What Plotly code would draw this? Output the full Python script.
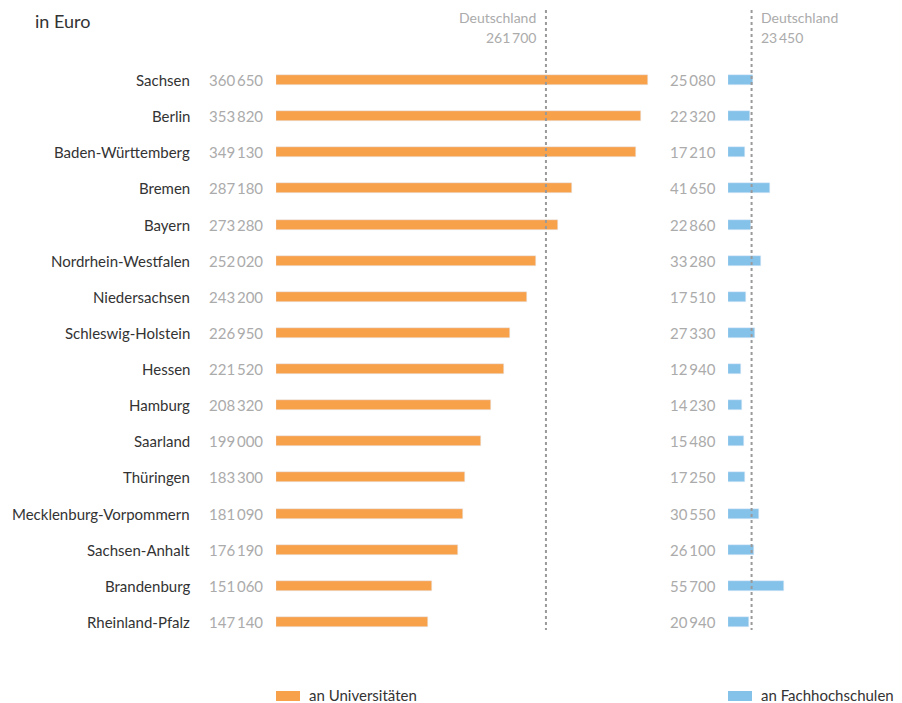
import plotly.graph_objects as go

states = ["Sachsen", "Berlin", "Baden-Württemberg", "Bremen", "Bayern",
          "Nordrhein-Westfalen", "Niedersachsen", "Schleswig-Holstein", "Hessen",
          "Hamburg", "Saarland", "Thüringen", "Mecklenburg-Vorpommern",
          "Sachsen-Anhalt", "Brandenburg", "Rheinland-Pfalz"]
uni = [360650, 353820, 349130, 287180, 273280, 252020, 243200, 226950,
       221520, 208320, 199000, 183300, 181090, 176190, 151060, 147140]
fh = [25080, 22320, 17210, 41650, 22860, 33280, 17510, 27330,
      12940, 14230, 15480, 17250, 30550, 26100, 55700, 20940]
de_uni = 261700
de_fh = 23450
series_names = ["an Universitäten", "an Fachhochschulen"]

OFF = 8  # page body margin
W, H = 902 - OFF, 703 - OFF
ORANGE = "#F8A14B"
BLUE = "#84C2EA"
GREY = "#ABABAB"
DARK = "#333333"
FONT = "Lato"


def px(x):
    return (x - OFF) / W


def py(y):
    return 1 - (y - OFF) / H


def fmt(v):
    return f"{v:,}".replace(",", "\u2009")


idx = list(range(len(states)))
row0, rowstep = 80 - OFF, (622 - 80) / 15
y_top = (0 - row0) / rowstep
y_bot = (H - row0) / rowstep

sx1 = 372 / 360650
sx2 = 56 / 55700
x1_dom = [px(276), px(676)]
x1_rng = [0, 400 / sx1]
x2_dom = [px(728), px(828)]
x2_rng = [0, 100 / sx2]

fig = go.Figure()
bw = 10 / rowstep
fig.add_trace(go.Bar(x=uni, y=idx, orientation="h", marker_color=ORANGE,
                     width=bw, xaxis="x", yaxis="y", name=series_names[0],
                     showlegend=False, hoverinfo="x"))
fig.add_trace(go.Bar(x=fh, y=idx, orientation="h", marker_color=BLUE,
                     width=bw, xaxis="x2", yaxis="y", name=series_names[1],
                     showlegend=False, hoverinfo="x"))

ann = []
for i, (s, u, f) in enumerate(zip(states, uni, fh)):
    ann.append(dict(x=px(192), xref="paper", y=i, yref="y", text=s,
                    xanchor="right", yanchor="middle", showarrow=False,
                    font=dict(family=FONT, size=15, color=DARK)))
    ann.append(dict(x=px(265), xref="paper", y=i, yref="y", text=fmt(u),
                    xanchor="right", yanchor="middle", showarrow=False,
                    font=dict(family=FONT, size=15, color=GREY)))
    ann.append(dict(x=px(718), xref="paper", y=i, yref="y", text=fmt(f),
                    xanchor="right", yanchor="middle", showarrow=False,
                    font=dict(family=FONT, size=15, color=GREY)))

hfont = dict(family=FONT, size=14, color=GREY)
ann.append(dict(x=de_uni, xref="x", y=py(17), yref="paper", text="Deutschland",
                xanchor="right", yanchor="middle", xshift=-8, showarrow=False, font=hfont))
ann.append(dict(x=de_uni, xref="x", y=py(38), yref="paper", text=fmt(de_uni),
                xanchor="right", yanchor="middle", xshift=-8, showarrow=False, font=hfont))
ann.append(dict(x=de_fh, xref="x2", y=py(17), yref="paper", text="Deutschland",
                xanchor="left", yanchor="middle", xshift=7, showarrow=False, font=hfont))
ann.append(dict(x=de_fh, xref="x2", y=py(38), yref="paper", text=fmt(de_fh),
                xanchor="left", yanchor="middle", xshift=7, showarrow=False, font=hfont))

ann.append(dict(x=px(33), xref="paper", y=1, yref="paper", text="in Euro",
                xanchor="left", yanchor="top", showarrow=False,
                font=dict(family=FONT, size=18, color=DARK)))

ann.append(dict(x=px(307), xref="paper", y=py(695), yref="paper",
                text=series_names[0], xanchor="left", yanchor="middle", showarrow=False,
                font=dict(family=FONT, size=15, color=DARK)))
ann.append(dict(x=px(759), xref="paper", y=py(695), yref="paper",
                text=series_names[1], xanchor="left", yanchor="middle", showarrow=False,
                font=dict(family=FONT, size=15, color=DARK)))

dotline = dict(color="#9A9A9A", width=2, dash="dot")
shapes = [
    dict(type="line", xref="x", yref="paper", x0=de_uni, x1=de_uni,
         y0=py(10), y1=py(630), line=dotline),
    dict(type="line", xref="x2", yref="paper", x0=de_fh, x1=de_fh,
         y0=py(10), y1=py(630), line=dotline),
    dict(type="rect", xref="paper", yref="paper", x0=px(276), x1=px(300),
         y0=py(701), y1=py(691), fillcolor=ORANGE, line=dict(width=0)),
    dict(type="rect", xref="paper", yref="paper", x0=px(728), x1=px(752),
         y0=py(701), y1=py(691), fillcolor=BLUE, line=dict(width=0)),
]

fig.update_layout(
    width=W, height=H, margin=dict(l=0, r=0, t=0, b=0, pad=0),
    paper_bgcolor="white", plot_bgcolor="white",
    xaxis=dict(domain=x1_dom, range=x1_rng, visible=False, fixedrange=True),
    xaxis2=dict(domain=x2_dom, range=x2_rng, visible=False, fixedrange=True,
                anchor="y"),
    yaxis=dict(domain=[0, 1], range=[y_bot, y_top], visible=False, fixedrange=True),
    annotations=ann, shapes=shapes, bargap=0, showlegend=False,
)

fig.write_html("out.html")
